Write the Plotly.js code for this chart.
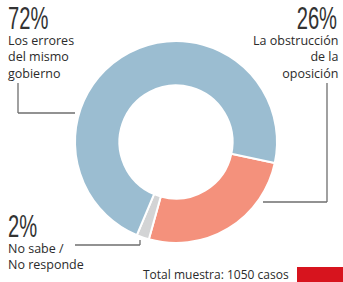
<!DOCTYPE html>
<html>
<head>
<meta charset="utf-8">
<script src="https://cdn.plot.ly/plotly-3.0.1.min.js"></script>
<style>html,body{margin:0;padding:0;background:#fff;}#chart{width:343px;height:282px;}</style>
</head>
<body>
<div id="chart"></div>
<script>
// Data
const categories = ["La obstrucción de la oposición", "No sabe / No responde", "Los errores del mismo gobierno"];
const values = [26, 2, 72];
const pctLabels = ["26%", "2%", "72%"];
const colors = ["#f4917c", "#d3d4d5", "#9bbdd1"];
const sampleNote = "Total muestra: 1050 casos";

const W = 343, H = 282;
const px = x => x / W;
const py = y => 1 - y / H;

const textColor = "#2b2b2b";
const bigFont = {family: "Liberation Sans, Arial, sans-serif", size: 32, color: "#333333"};
const lblFont = {family: "Open Sans, sans-serif", size: 12.5, color: textColor};

const trace = {
  type: "pie",
  values: values,
  labels: categories,
  sort: false,
  direction: "clockwise",
  rotation: 102,
  hole: 0.56,
  marker: {colors: colors, line: {color: "#ffffff", width: 2}},
  textinfo: "none",
  hoverinfo: "label+percent",
  domain: {x: [px(75), px(277)], y: [py(243), py(41)]}
};

const lineStyle = {color: "#6e6e6e", width: 1.3};
const shapes = [
  {type: "line", xref: "paper", yref: "paper", x0: px(18), y0: py(83), x1: px(18), y1: py(113), line: lineStyle},
  {type: "line", xref: "paper", yref: "paper", x0: px(18), y0: py(113), x1: px(75), y1: py(113), line: lineStyle},
  {type: "line", xref: "paper", yref: "paper", x0: px(327), y0: py(83), x1: px(327), y1: py(202), line: lineStyle},
  {type: "line", xref: "paper", yref: "paper", x0: px(263), y0: py(202), x1: px(327), y1: py(202), line: lineStyle},
  {type: "line", xref: "paper", yref: "paper", x0: px(75), y0: py(245), x1: px(140), y1: py(245), line: lineStyle},
  {type: "line", xref: "paper", yref: "paper", x0: px(140), y0: py(245), x1: px(140), y1: py(240), line: lineStyle},
  {type: "rect", xref: "paper", yref: "paper", x0: px(297), y0: py(267), x1: px(345), y1: py(284), fillcolor: "#d7141e", line: {width: 0}}
];

const annotations = [
  {text: pctLabels[2], x: px(7), y: py(-1), xanchor: "left", yanchor: "top", font: bigFont},
  {text: "Los errores<br>del mismo<br>gobierno", x: px(7), y: py(31), xanchor: "left", yanchor: "top", align: "left", font: lblFont},
  {text: pctLabels[0], x: px(338), y: py(-1), xanchor: "right", yanchor: "top", font: bigFont},
  {text: "La obstrucción<br>de la<br>oposición", x: px(339), y: py(31), xanchor: "right", yanchor: "top", align: "right", font: lblFont},
  {text: pctLabels[1], x: px(7), y: py(207), xanchor: "left", yanchor: "top", font: bigFont},
  {text: "No sabe /<br>No responde", x: px(7), y: py(239), xanchor: "left", yanchor: "top", align: "left", font: lblFont},
  {text: sampleNote, x: px(290), y: py(265), xanchor: "right", yanchor: "top", font: {family: "Open Sans, sans-serif", size: 12, color: textColor}}
];
annotations.forEach(a => { a.xref = "paper"; a.yref = "paper"; a.showarrow = false; a.borderpad = 0; });

const layout = {
  width: W, height: H,
  margin: {l: 0, r: 0, t: 0, b: 0},
  paper_bgcolor: "#ffffff",
  showlegend: false,
  shapes: shapes,
  annotations: annotations
};

Plotly.newPlot("chart", [trace], layout, {displayModeBar: false, staticPlot: true}).then(() => {
  // condense the big percentage figures (narrow display face in the reference)
  const s = 0.63;
  document.querySelectorAll("#chart .annotation").forEach(g => {
    const t = g.querySelector("text.annotation-text");
    if (!t || !/%$/.test(t.textContent)) return;
    const bb = t.getBBox();
    const rightAligned = (g.getBoundingClientRect().left > W / 2);
    const x0 = rightAligned ? bb.x + bb.width : bb.x;
    t.setAttribute("transform", `translate(${x0},0) scale(${s},1) translate(${-x0},0)`);
  });
});
</script>
</body>
</html>
